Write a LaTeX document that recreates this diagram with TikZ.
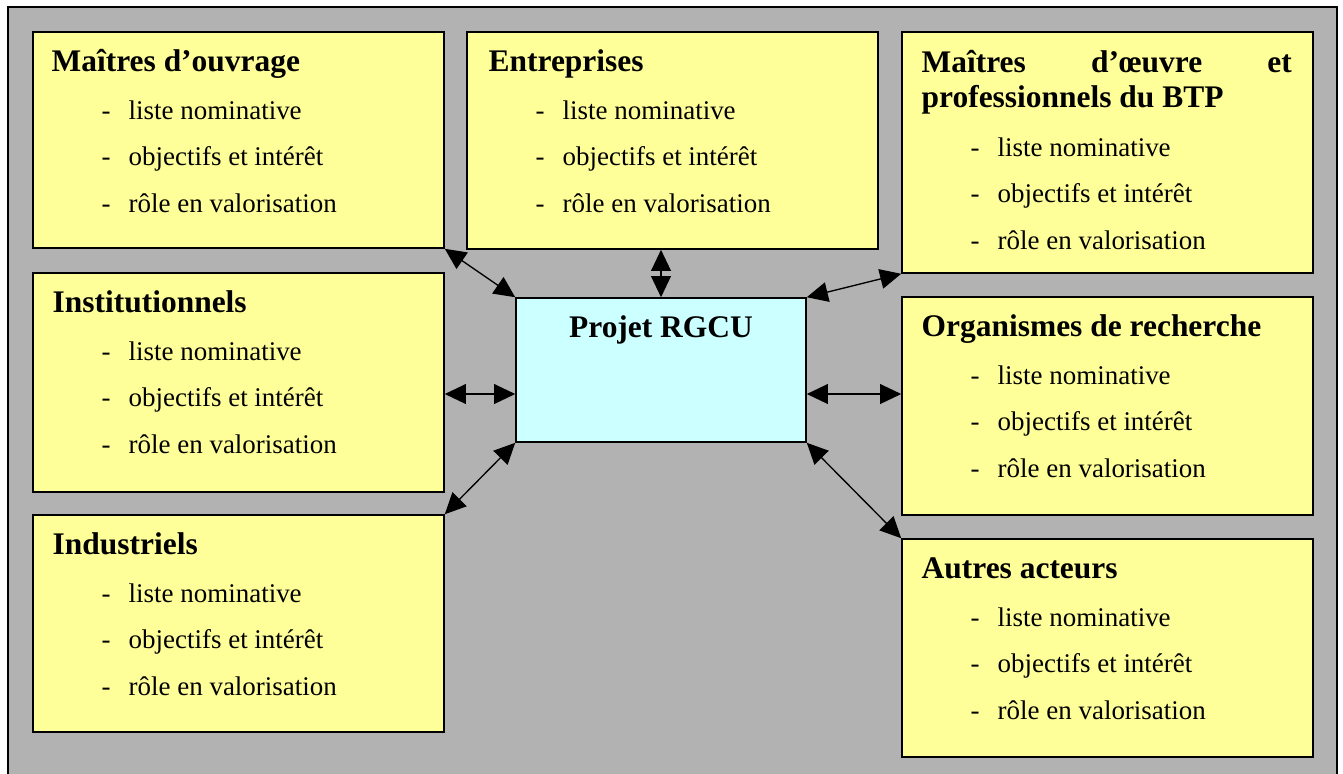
\documentclass[tikz,border=0pt]{standalone}
\usepackage{fontspec}
\setmainfont{Liberation Serif}
\usetikzlibrary{arrows.meta,fit}
\definecolor{fond}{RGB}{178,178,178}
\definecolor{jaune}{RGB}{255,255,153}
\definecolor{ciel}{RGB}{204,255,255}
\begin{document}
\begin{tikzpicture}[x=0.015637cm, y=-0.015637cm,
  >={Triangle[length=0.33cm,width=0.31cm]},
  panel/.style={draw, fill=jaune, line width=0.7pt, inner sep=0pt},
  titre/.style={anchor=base west, inner sep=0pt, font=\fontsize{14}{16}\selectfont\bfseries},
  puce/.style={anchor=base west, inner sep=0pt, font=\fontsize{12}{14}\selectfont}]
\useasboundingbox (0,0) rectangle (1343,773);
\clip (0,0) rectangle (1343,773);
\draw[fill=fond, line width=1pt] (8,7) rectangle (1337,800);

% acteurs
\node[panel, fit={(33,32) (444,248)}] (mo) {};
\node[panel, fit={(467,32) (878,249)}] (ent) {};
\node[panel, fit={(902,32) (1313,273)}] (moe) {};
\node[panel, fit={(33,273) (444,492)}] (inst) {};
\node[panel, fit={(902,297) (1313,515)}] (org) {};
\node[panel, fit={(33,515) (444,732)}] (ind) {};
\node[panel, fit={(902,539) (1313,757)}] (aut) {};
\node[panel, fill=ciel, fit={(516,298) (806,442)}] (projet) {};

\node[titre] (mo-h) at ([shift={(19,40)}]mo.north west) {Maîtres d’ouvrage};
\node[titre] (ent-h) at ([shift={(22,40)}]ent.north west) {Entreprises};
\node[titre] (moe-h1) at ([shift={(20,41)}]moe.north west) {\makebox[5.79cm][s]{Maîtres\hfill d’œuvre\hfill et}};
\node[titre] (moe-h2) at ([shift={(20,76)}]moe.north west) {professionnels du BTP};
\node[titre] (inst-h) at ([shift={(20,40)}]inst.north west) {Institutionnels};
\node[titre] (org-h) at ([shift={(20,40)}]org.north west) {Organismes de recherche};
\node[titre] (ind-h) at ([shift={(20,40)}]ind.north west) {Industriels};
\node[titre] (aut-h) at ([shift={(20,40)}]aut.north west) {Autres acteurs};
\node[titre, anchor=base] (projet-h) at ([shift={(0,40)}]projet.north) {Projet RGCU};

\foreach \b/\d in {mo/0,ent/0,moe/37,inst/0,org/0,ind/0,aut/0}{
  \foreach \t [count=\i] in {liste nominative,objectifs et intérêt,rôle en valorisation}{
    \node[puce] (\b-d\i) at ([shift={(69,{88+\d+46.6*(\i-1)})}]\b.north west) {-};
    \node[puce] (\b-t\i) at ([shift={(96,{88+\d+46.6*(\i-1)})}]\b.north west) {\t};
  }
}

% liaisons
\coordinate (mid) at (661,394);
\draw[<->, line width=0.6pt] (mo.south east) -- (projet.north west);
\draw[<->, line width=0.6pt] (projet.north) -- (projet.north |- ent.south);
\draw[<->, line width=0.6pt] (moe.south west) -- (projet.north east);
\draw[<->, line width=0.6pt] (inst.east |- mid) -- (projet.west |- mid);
\draw[<->, line width=0.6pt] (projet.east |- mid) -- (org.west |- mid);
\draw[<->, line width=0.6pt] (ind.north east) -- (projet.south west);
\draw[<->, line width=0.6pt] (projet.south east) -- (aut.north west);
\end{tikzpicture}
\end{document}
